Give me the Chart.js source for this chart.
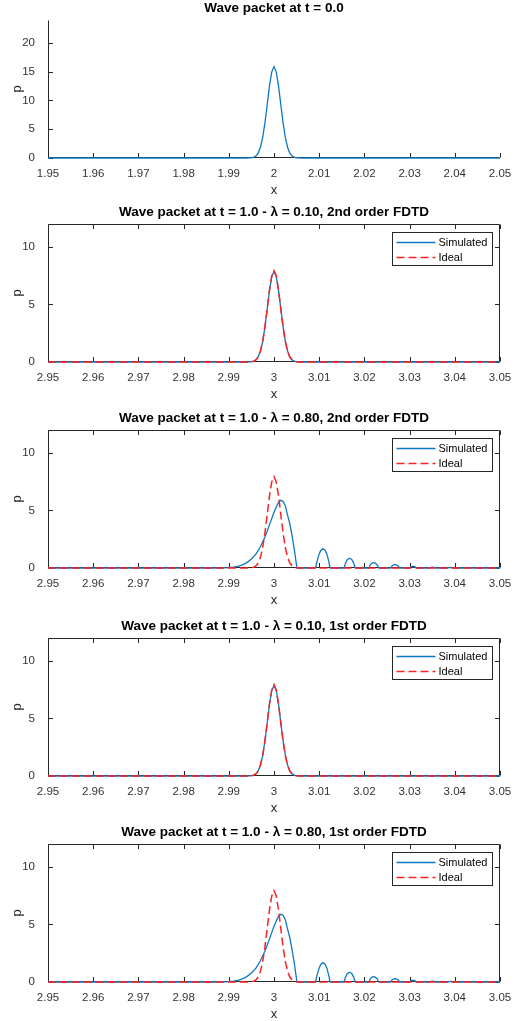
<!DOCTYPE html>
<html>
<head>
<meta charset="utf-8">
<title>Wave packet FDTD</title>
<script src="https://cdn.jsdelivr.net/npm/chart.js@4.4.1/dist/chart.umd.min.js"></script>
<style>
  html, body { margin: 0; background: #fff; overflow: hidden; }
  .panel { position: absolute; left: 0; width: 548px; height: 198px; }
</style>
</head>
<body>
<div class="panel" style="top:0px"><canvas id="p1" width="548" height="198"></canvas></div>
<div class="panel" style="top:204px"><canvas id="p2" width="548" height="198"></canvas></div>
<div class="panel" style="top:410px"><canvas id="p3" width="548" height="198"></canvas></div>
<div class="panel" style="top:618px"><canvas id="p4" width="548" height="198"></canvas></div>
<div class="panel" style="top:824px"><canvas id="p5" width="548" height="198"></canvas></div>
<script>
// --- data ---
const xTicksStart = [1.95, 1.96, 1.97, 1.98, 1.99, 2.0, 2.01, 2.02, 2.03, 2.04, 2.05];
const xTicksEnd = [2.95, 2.96, 2.97, 2.98, 2.99, 3.0, 3.01, 3.02, 3.03, 3.04, 3.05];
const yTicksStart = [0, 5, 10, 15, 20];
const yTicksEnd = [0, 5, 10];

// t = 0.0 packet
const packetX = [1.95, 1.994, 1.9945, 1.995, 1.9955, 1.996, 1.9965, 1.997, 1.9975, 1.998, 1.9985, 1.999, 1.9995, 2.0,
  2.0005, 2.001, 2.0015, 2.002, 2.0025, 2.003, 2.0035, 2.004, 2.0045, 2.005, 2.0055, 2.006, 2.05];
const packetP = [0, 0, 0.01, 0.04, 0.13, 0.35, 0.86, 1.87, 3.59, 6.14, 9.31, 12.53, 14.98, 15.9,
  14.98, 12.53, 9.31, 6.14, 3.59, 1.87, 0.86, 0.35, 0.13, 0.04, 0.01, 0, 0];

// t = 1.0 ideal packet
const idealX = [2.95, 2.994, 2.9945, 2.995, 2.9955, 2.996, 2.9965, 2.997, 2.9975, 2.998, 2.9985, 2.999, 2.9995, 3.0,
  3.0005, 3.001, 3.0015, 3.002, 3.0025, 3.003, 3.0035, 3.004, 3.0045, 3.005, 3.0055, 3.006, 3.05];
const idealP = [0, 0, 0.005, 0.02, 0.065, 0.18, 0.43, 0.94, 1.8, 3.07, 4.66, 6.27, 7.49, 7.95,
  7.49, 6.27, 4.66, 3.07, 1.8, 0.94, 0.43, 0.18, 0.065, 0.02, 0.005, 0, 0];

// simulated, lambda = 0.10 (sits on the ideal curve)
const simSmallP = [0, 0, 0.005, 0.02, 0.07, 0.19, 0.44, 0.95, 1.8, 3.06, 4.63, 6.22, 7.42, 7.88,
  7.44, 6.25, 4.67, 3.09, 1.82, 0.95, 0.44, 0.18, 0.065, 0.02, 0.005, 0, 0];

// simulated, lambda = 0.80 (dispersive tail)
const simLargeX = [2.95, 2.988, 2.989, 2.99, 2.991, 2.992, 2.993, 2.994, 2.995, 2.996, 2.997, 2.998, 2.999, 3.0,
  3.0005, 3.001, 3.0015, 3.002, 3.0025, 3.003, 3.0035, 3.004, 3.0045, 3.005, 3.0051,
  3.0092, 3.0095, 3.0099, 3.0103, 3.0108, 3.0113, 3.0117, 3.0121, 3.0124,
  3.0155, 3.0158, 3.0162, 3.0167, 3.0172, 3.0176, 3.018,
  3.021, 3.0213, 3.0217, 3.022, 3.0224, 3.0228, 3.0232,
  3.0258, 3.0261, 3.0265, 3.0268, 3.0272, 3.0275, 3.0278,
  3.03, 3.0303, 3.0307, 3.0311, 3.0314, 3.0316,
  3.0344, 3.0347, 3.0351, 3.0354, 3.0357,
  3.0384, 3.0387, 3.0391, 3.0394, 3.0397,
  3.0422, 3.0426, 3.043, 3.0434, 3.05];
const simLargeP = [0, 0, 0.01, 0.03, 0.07, 0.15, 0.28, 0.47, 0.78, 1.2, 1.85, 2.7, 3.75, 4.85,
  5.3, 5.7, 5.88, 5.8, 5.42, 4.6, 3.85, 2.8, 1.6, 0.2, 0,
  0, 0.55, 1.1, 1.5, 1.68, 1.55, 1.2, 0.6, 0,
  0, 0.4, 0.72, 0.85, 0.75, 0.45, 0,
  0, 0.28, 0.43, 0.47, 0.42, 0.28, 0,
  0, 0.18, 0.28, 0.3, 0.26, 0.16, 0,
  0, 0.1, 0.15, 0.12, 0.06, 0,
  0, 0.06, 0.08, 0.05, 0,
  0, 0.04, 0.05, 0.03, 0,
  0, 0.025, 0.02, 0, 0];

const FONT = 'Arial, "Liberation Sans", Helvetica, sans-serif';
const BLUE = '#0F78C2';
const RED = '#FF2020';

// box + inward ticks like the original figure
const matlabAxes = {
  id: 'matlabAxes',
  beforeDatasetsDraw(chart, args, opts) {
    const { ctx, chartArea: a, scales: { x, y } } = chart;
    const L = Math.round(a.left) + 0.5, R = Math.round(a.right) - 0.5;
    const T = Math.round(a.top) + 0.5, B = Math.round(a.bottom) - 0.5;
    const tl = 4.5;
    ctx.save();
    ctx.strokeStyle = '#262626';
    ctx.lineWidth = 1;
    ctx.beginPath();
    if (opts.box) {
      ctx.rect(L, T, R - L, B - T);
    } else {
      ctx.moveTo(L, T); ctx.lineTo(L, B); ctx.lineTo(R, B);
    }
    x.ticks.forEach(t => {
      const px = Math.round(x.getPixelForValue(t.value)) + 0.5;
      ctx.moveTo(px, B); ctx.lineTo(px, B - tl);
      if (opts.box) { ctx.moveTo(px, T); ctx.lineTo(px, T + tl); }
    });
    y.ticks.forEach(t => {
      const py = Math.round(y.getPixelForValue(t.value)) + 0.5;
      ctx.moveTo(L, py); ctx.lineTo(L + tl, py);
      if (opts.box) { ctx.moveTo(R, py); ctx.lineTo(R - tl, py); }
    });
    ctx.stroke();
    ctx.restore();
  }
};

// legend drawn inside the plot, top right
const boxLegend = {
  id: 'boxLegend',
  afterDatasetsDraw(chart, args, opts) {
    if (!opts.show) return;
    const { ctx, chartArea: a } = chart;
    const sets = chart.data.datasets;
    ctx.save();
    ctx.font = '11px ' + FONT;
    const textW = Math.max(...sets.map(d => ctx.measureText(d.label).width));
    const w = Math.round(46 + textW + 5), h = 33;
    const bx = Math.round(a.right - 8 - w) + 0.5, by = Math.round(a.top + 8) + 0.5;
    ctx.fillStyle = '#fff';
    ctx.fillRect(bx, by, w, h);
    ctx.strokeStyle = '#262626';
    ctx.lineWidth = 1;
    ctx.strokeRect(bx, by, w, h);
    sets.forEach((d, i) => {
      const ly = by + 10 + i * 15;
      ctx.strokeStyle = d.borderColor;
      ctx.lineWidth = d.borderWidth;
      ctx.setLineDash(d.borderDash || []);
      ctx.beginPath();
      ctx.moveTo(bx + 4, ly); ctx.lineTo(bx + 43, ly);
      ctx.stroke();
      ctx.setLineDash([]);
      ctx.fillStyle = '#000';
      ctx.textBaseline = 'middle';
      ctx.fillText(d.label, bx + 46, ly + 0.5);
    });
    ctx.restore();
  }
};

function makePanel(id, title, series, xTicks, yTicks, yMax, boxed) {
  new Chart(document.getElementById(id), {
    type: 'line',
    data: {
      datasets: series.map((s, k) => ({
        label: s.label,
        data: s.xs.map((x, i) => ({ x: x, y: s.ps[i] })),
        borderColor: s.color,
        borderWidth: s.dash ? 1.5 : 1.3,
        borderDash: s.dash || [],
        order: series.length - k,   // later series (Ideal) painted on top
        clip: 3,                    // keep the full stroke of the zero line
        pointRadius: 0,
        tension: 0,
        fill: false
      }))
    },
    options: {
      responsive: false,
      animation: false,
      layout: { padding: 0 },
      plugins: {
        legend: { display: false },
        tooltip: { enabled: false },
        title: {
          display: true, text: title, color: '#000',
          font: { family: FONT, size: 13.5, weight: 'bold' },
          padding: { top: 0, bottom: 3.8 }
        },
        matlabAxes: { box: boxed },
        boxLegend: { show: boxed }
      },
      scales: {
        x: {
          type: 'linear',
          min: xTicks[0], max: xTicks[xTicks.length - 1],
          afterBuildTicks: s => { s.ticks = xTicks.map(v => ({ value: v })); },
          afterFit: s => { s.height = 40; },
          grid: { display: false },
          border: { display: false },
          ticks: {
            color: '#333', font: { family: FONT, size: 11.5 }, padding: 1,
            maxRotation: 0, autoSkip: false,
            callback: v => String(+v.toFixed(2))
          },
          title: { display: true, text: 'x', color: '#262626', font: { family: FONT, size: 13 }, padding: 0 }
        },
        y: {
          type: 'linear',
          min: 0, max: yMax,
          afterBuildTicks: s => { s.ticks = yTicks.map(v => ({ value: v })); },
          afterFit: s => { s.width = 48; },
          grid: { display: false },
          border: { display: false },
          ticks: { color: '#333', font: { family: FONT, size: 11.5 }, padding: 5 },
          title: { display: true, text: 'p', color: '#262626', font: { family: FONT, size: 13 }, padding: { top: 10, bottom: 0 } }
        },
        // empty right-hand axis, same width as the left one, so the title centres over the plot
        ySpacer: {
          type: 'linear', position: 'right',
          min: 0, max: yMax,
          afterFit: s => { s.width = 48; },
          grid: { display: false },
          border: { display: false },
          ticks: { display: false }
        }
      }
    },
    plugins: [matlabAxes, boxLegend]
  });
}

makePanel('p1', 'Wave packet at t = 0.0',
  [{ label: 'p', xs: packetX, ps: packetP, color: BLUE }],
  xTicksStart, yTicksStart, 24, false);

makePanel('p2', 'Wave packet at t = 1.0 - λ = 0.10, 2nd order FDTD',
  [{ label: 'Simulated', xs: idealX, ps: simSmallP, color: BLUE },
   { label: 'Ideal', xs: idealX, ps: idealP, color: RED, dash: [8, 4] }],
  xTicksEnd, yTicksEnd, 12, true);

makePanel('p3', 'Wave packet at t = 1.0 - λ = 0.80, 2nd order FDTD',
  [{ label: 'Simulated', xs: simLargeX, ps: simLargeP, color: BLUE },
   { label: 'Ideal', xs: idealX, ps: idealP, color: RED, dash: [8, 4] }],
  xTicksEnd, yTicksEnd, 12, true);

makePanel('p4', 'Wave packet at t = 1.0 - λ = 0.10, 1st order FDTD',
  [{ label: 'Simulated', xs: idealX, ps: simSmallP, color: BLUE },
   { label: 'Ideal', xs: idealX, ps: idealP, color: RED, dash: [8, 4] }],
  xTicksEnd, yTicksEnd, 12, true);

makePanel('p5', 'Wave packet at t = 1.0 - λ = 0.80, 1st order FDTD',
  [{ label: 'Simulated', xs: simLargeX, ps: simLargeP, color: BLUE },
   { label: 'Ideal', xs: idealX, ps: idealP, color: RED, dash: [8, 4] }],
  xTicksEnd, yTicksEnd, 12, true);
</script>
</body>
</html>
